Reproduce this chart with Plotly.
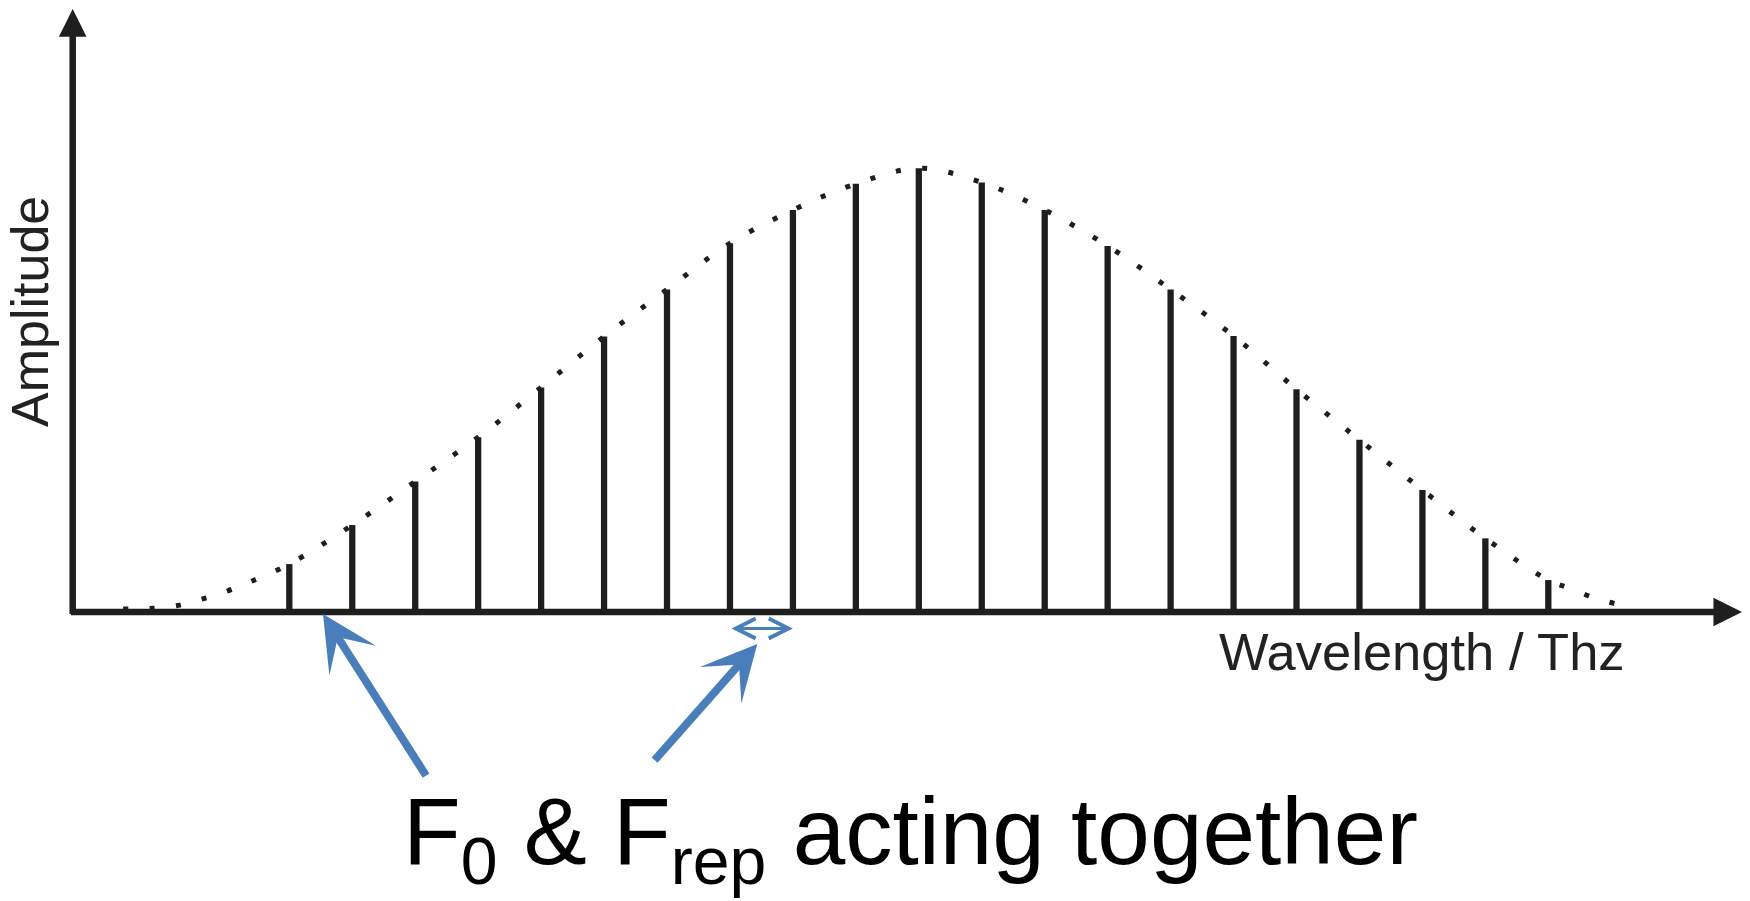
import plotly.graph_objects as go

# Frequency comb: line index and relative amplitude of each comb line
mode_index = list(range(21))
line_amplitude = [0.108, 0.196, 0.294, 0.394, 0.506, 0.621, 0.727, 0.831, 0.906, 0.965, 1.000,
                  0.968, 0.906, 0.825, 0.727, 0.622, 0.502, 0.388, 0.275, 0.166, 0.072]

# Spectral envelope (dotted), sampled in comb-line units
envelope_left_mode = [-2.64, -2.22, -1.80, -1.39, -0.99, -0.59]
envelope_left_amp = [0.007, 0.008, 0.014, 0.029, 0.047, 0.070]
envelope_right_mode = [20.35, 20.74, 21.15]
envelope_right_amp = [0.053, 0.031, 0.016]
envelope_mode = envelope_left_mode + mode_index + envelope_right_mode
envelope_amp = envelope_left_amp + line_amplitude + envelope_right_amp

# Annotated quantities (in comb-line units)
f0_position = 0.535          # offset frequency marker on the axis
frep_span = [7, 8]           # spacing between two neighbouring lines

INK = "#1e1e1e"
BLUE = "#4a7ebb"
FONT = "Liberation Sans, Arial, Helvetica, sans-serif"

fig = go.Figure()

fig.add_trace(go.Bar(
    x=mode_index, y=line_amplitude, width=0.1,
    marker=dict(color=INK, line=dict(width=0)),
    hoverinfo="skip", showlegend=False,
))

fig.add_trace(go.Scatter(
    x=envelope_mode, y=envelope_amp, mode="lines",
    line=dict(color=INK, width=5, shape="spline", dash="5px,21.5px"),
    hoverinfo="skip", showlegend=False,
))

x_range = [-4.596, 23.204]
y_range = [-0.6513, 1.3793]
axis_x = -3.441      # position of the vertical axis
axis_left = -3.493

annotations = [
    # vertical axis with arrow
    dict(x=axis_x, y=1.359, ax=axis_x, ay=-0.008, xref="x", yref="y", axref="x", ayref="y",
         text="", showarrow=True, arrowhead=2, arrowsize=0.85, arrowwidth=6.5, arrowcolor=INK),
    # horizontal axis with arrow
    dict(x=23.077, y=0, ax=axis_left, ay=0, xref="x", yref="y", axref="x", ayref="y",
         text="", showarrow=True, arrowhead=2, arrowsize=0.88, arrowwidth=6.5, arrowcolor=INK),
    # F0 pointer
    dict(x=f0_position, y=-0.0045, ax=2.187, ay=-0.372, xref="x", yref="y", axref="x", ayref="y",
         text="", showarrow=True, arrowhead=3, arrowsize=1.15, arrowwidth=8, arrowcolor=BLUE),
    # Frep pointer
    dict(x=7.434, y=-0.072, ax=5.782, ay=-0.337, xref="x", yref="y", axref="x", ayref="y",
         text="", showarrow=True, arrowhead=3, arrowsize=1.15, arrowwidth=8, arrowcolor=BLUE),
    # line spacing marker
    dict(x=frep_span[1], y=-0.037, ax=frep_span[0], ay=-0.037, xref="x", yref="y", axref="x", ayref="y",
         text="", showarrow=True, arrowhead=5, startarrowhead=5, arrowside="end+start",
         arrowsize=1.3, startarrowsize=1.3, arrowwidth=3, arrowcolor=BLUE),
    # axis titles
    dict(text="Amplitude", textangle=-90, x=30 / 1750, y=1 - 312 / 901, xref="paper", yref="paper",
         xanchor="center", yanchor="middle", showarrow=False,
         font=dict(family=FONT, size=52, color="#222222")),
    dict(text="Wavelength / Thz", x=1217 / 1750, y=1 - 620 / 901, xref="paper", yref="paper",
         xanchor="left", yanchor="top", showarrow=False,
         font=dict(family=FONT, size=52.5, color="#222222")),
    # caption
    dict(text="F<sub>0</sub> &amp; F<sub>rep</sub> acting together", x=401 / 1750, y=1 - 776 / 901,
         xref="paper", yref="paper", xanchor="left", yanchor="top", showarrow=False,
         font=dict(family=FONT, size=94.5, color="#000000")),
]

fig.update_layout(
    width=1750, height=901, autosize=False,
    margin=dict(l=0, r=0, t=0, b=0, pad=0),
    paper_bgcolor="white", plot_bgcolor="white",
    xaxis=dict(range=x_range, visible=False, fixedrange=True),
    yaxis=dict(range=y_range, visible=False, fixedrange=True),
    annotations=annotations,
    hovermode=False,
    barmode="overlay",
)

fig.write_html("out.html", config={"displayModeBar": False})
